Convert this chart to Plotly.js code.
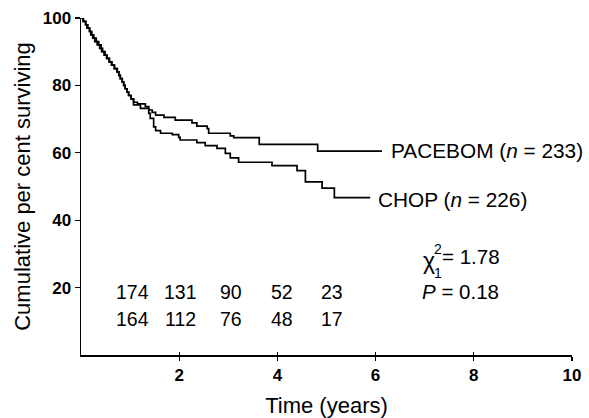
<!DOCTYPE html>
<html>
<head>
<meta charset="utf-8">
<script src="https://cdn.plot.ly/plotly-3.0.1.min.js"></script>
<style>html,body{margin:0;padding:0;background:#fff;}#chart{width:589px;height:418px;}</style>
</head>
<body>
<div id="chart"></div>
<script>
// Kaplan-Meier survival estimates (years, cumulative per cent surviving)
const pacebomTime = [0,0.05,0.09,0.14,0.17,0.22,0.26,0.31,0.36,0.41,0.44,0.49,0.53,0.58,0.63,0.68,0.73,0.77,0.8,0.84,0.87,0.9,0.94,0.97,1.02,1.07,1.15,1.31,1.38,1.45,1.52,1.69,1.92,2.26,2.36,2.57,2.6,3.04,3.11,3.63,4.82,6.13];
const pacebomSurv = [100,99,98,97,96,95,94,93,92,91,90,89,88,87,86,85,84,83,82,81,80,79,78,77,76,75,74.5,73.7,72.7,72.0,71.2,70.5,69.7,68.9,67.9,67.2,65.8,65.0,64.5,62.5,60.5,60.5];
const chopTime = [0,0.04,0.1,0.12,0.18,0.2,0.24,0.28,0.33,0.38,0.42,0.47,0.52,0.57,0.62,0.68,0.74,0.77,0.8,0.84,0.87,0.9,0.94,0.97,1.02,1.07,1.21,1.38,1.41,1.48,1.52,1.62,1.86,1.99,2.02,2.36,2.53,2.77,2.94,3.04,3.21,3.89,4.40,4.57,4.91,5.16,5.89];
const chopSurv = [100,99,98,97,96,95,94,93,92,91,90,89,88,87,86,85,84,83,82,81,80,79,78,77,76,74.2,73.2,71.7,70.2,67.7,66.6,65.8,65.4,64.6,63.8,63.0,62.1,61.3,59.8,58.5,57.2,56.2,54.7,51.4,49.5,46.7,46.7];

// numbers at risk
const riskYears = [1, 2, 3, 4, 5];
const pacebomAtRisk = [174, 131, 90, 52, 23];
const chopAtRisk = [164, 112, 76, 48, 17];

const xTickVals = [2, 4, 6, 8, 10];
const yTickVals = [20, 40, 60, 80, 100];

const FONT = 'Liberation Sans, Arial, Helvetica, sans-serif';

const traces = [
  {x: pacebomTime, y: pacebomSurv, type: 'scatter', mode: 'lines', line: {shape: 'hv', color: '#000', width: 1.7}, hoverinfo: 'skip', name: 'PACEBOM'},
  {x: chopTime, y: chopSurv, type: 'scatter', mode: 'lines', line: {shape: 'hv', color: '#000', width: 1.7}, hoverinfo: 'skip', name: 'CHOP'},
  {x: [0], y: [0], xaxis: 'x2', yaxis: 'y', mode: 'markers', marker: {opacity: 0}, hoverinfo: 'skip', showlegend: false}
];

const annotations = [];
const riskOffsets = [0.05, 0.03, 0.06, 0.1, 0.12];
riskYears.forEach((yr, i) => {
  annotations.push({x: yr + riskOffsets[i], y: 18.7, xref: 'x', yref: 'y', text: String(pacebomAtRisk[i]), showarrow: false, font: {family: FONT, size: 19.5, color: '#000'}, xanchor: 'center', yanchor: 'middle'});
  annotations.push({x: yr + riskOffsets[i], y: 10.7, xref: 'x', yref: 'y', text: String(chopAtRisk[i]), showarrow: false, font: {family: FONT, size: 19.5, color: '#000'}, xanchor: 'center', yanchor: 'middle'});
});
annotations.push({x: 6.28, y: 60.8, xref: 'x', yref: 'y', text: 'PACEBOM (<i>n</i> = 233)', showarrow: false, font: {family: FONT, size: 20.8, color: '#000'}, xanchor: 'left', yanchor: 'middle'});
annotations.push({x: 6.01, y: 46.0, xref: 'x', yref: 'y', text: 'CHOP (<i>n</i> = 226)', showarrow: false, font: {family: FONT, size: 20.8, color: '#000'}, xanchor: 'left', yanchor: 'middle'});
annotations.push({x: 6.93, y: 27.8, xref: 'x', yref: 'y', text: 'χ', showarrow: false, font: {family: FONT, size: 23, color: '#000'}, xanchor: 'left', yanchor: 'middle'});
annotations.push({x: 7.14, y: 31.6, xref: 'x', yref: 'y', text: '2', showarrow: false, font: {family: FONT, size: 14, color: '#000'}, xanchor: 'left', yanchor: 'middle'});
annotations.push({x: 7.14, y: 24.4, xref: 'x', yref: 'y', text: '1', showarrow: false, font: {family: FONT, size: 14, color: '#000'}, xanchor: 'left', yanchor: 'middle'});
annotations.push({x: 7.32, y: 29.3, xref: 'x', yref: 'y', text: '= 1.78', showarrow: false, font: {family: FONT, size: 20.5, color: '#000'}, xanchor: 'left', yanchor: 'middle'});
annotations.push({x: 6.9, y: 18.7, xref: 'x', yref: 'y', text: '<i>P</i> = 0.18', showarrow: false, font: {family: FONT, size: 20.5, color: '#000'}, xanchor: 'left', yanchor: 'middle'});

const layout = {
  width: 589, height: 418,
  margin: {l: 80.5, r: 17, t: 18, b: 63, pad: 0},
  paper_bgcolor: '#fff', plot_bgcolor: '#fff',
  showlegend: false,
  font: {family: FONT, color: '#000'},
  xaxis: {
    range: [0, 10], tickvals: xTickVals, ticktext: xTickVals.map(String),
    showgrid: false, zeroline: false, showline: true, linecolor: '#000', linewidth: 1.5,
    ticks: 'outside', ticklen: 4, tickwidth: 1.3, tickcolor: '#000',
    tickfont: {family: FONT, size: 17, color: '#000', weight: 'bold'},
    title: {text: 'Time (years)', font: {family: FONT, size: 22, color: '#000'}, standoff: 17},
    fixedrange: true
  },
  xaxis2: {
    range: [0, 10], overlaying: 'x', anchor: 'y', side: 'bottom', tickvals: xTickVals,
    showticklabels: false, showgrid: false, zeroline: false, showline: false,
    ticks: 'inside', ticklen: 3, tickwidth: 1.3, tickcolor: '#000'
  },
  yaxis: {
    range: [0, 100], tickvals: yTickVals, ticktext: yTickVals.map(String),
    showgrid: false, zeroline: false, showline: true, linecolor: '#000', linewidth: 1.5,
    ticks: 'outside', ticklen: 5, tickwidth: 1.3, tickcolor: '#000',
    tickfont: {family: FONT, size: 17, color: '#000', weight: 'bold'},
    title: {text: 'Cumulative per cent surviving', font: {family: FONT, size: 22, color: '#000'}, standoff: 6},
    fixedrange: true
  },
  annotations: annotations
};

Plotly.newPlot('chart', traces, layout, {displayModeBar: false, staticPlot: true});
</script>
</body>
</html>
